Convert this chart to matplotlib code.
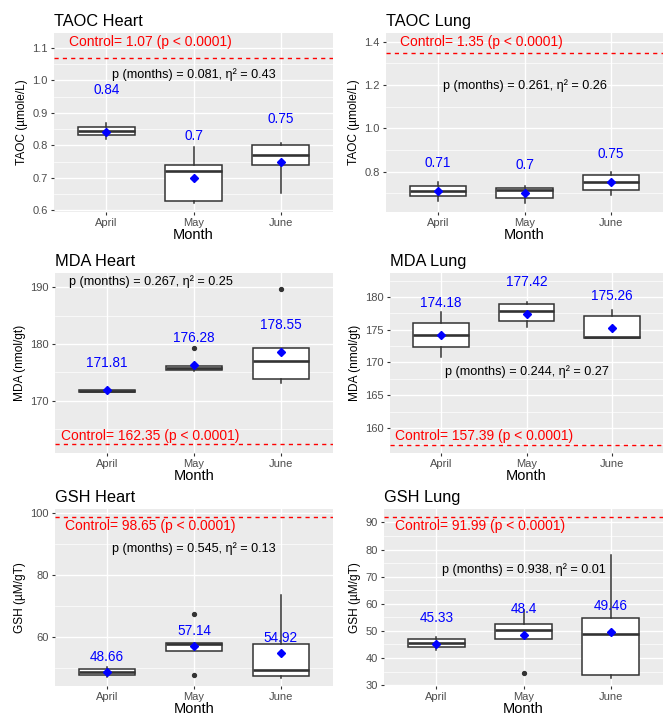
import matplotlib
matplotlib.use('Agg')
from matplotlib import pyplot as plt
from matplotlib.ticker import MultipleLocator

plt.rcParams['font.family'] = ['Liberation Sans', 'DejaVu Sans']

months = ['April', 'May', 'June']

# box stats per panel: whisker low, q1, median, q3, whisker high, mean, outliers
taoc_heart_whislo = [0.821, 0.622, 0.652]
taoc_heart_q1 = [0.833, 0.630, 0.741]
taoc_heart_med = [0.845, 0.721, 0.770]
taoc_heart_q3 = [0.858, 0.741, 0.801]
taoc_heart_whishi = [0.870, 0.796, 0.807]
taoc_heart_mean = [0.84, 0.70, 0.75]
taoc_heart_fliers = [[], [], []]

taoc_lung_whislo = [0.662, 0.654, 0.693]
taoc_lung_q1 = [0.685, 0.679, 0.713]
taoc_lung_med = [0.708, 0.713, 0.752]
taoc_lung_q3 = [0.731, 0.722, 0.782]
taoc_lung_whishi = [0.754, 0.732, 0.800]
taoc_lung_mean = [0.71, 0.70, 0.75]
taoc_lung_fliers = [[], [], []]

mda_heart_whislo = [171.55, 175.3, 173.1]
mda_heart_q1 = [171.6, 175.35, 173.8]
mda_heart_med = [171.76, 175.7, 177.0]
mda_heart_q3 = [171.95, 176.1, 179.3]
mda_heart_whishi = [172.0, 176.15, 179.3]
mda_heart_mean = [171.81, 176.28, 178.55]
mda_heart_fliers = [[], [179.3], [189.6]]

mda_lung_whislo = [170.8, 175.4, 173.76]
mda_lung_q1 = [172.43, 176.3, 173.76]
mda_lung_med = [174.22, 177.85, 173.86]
mda_lung_q3 = [176.0, 178.93, 177.03]
mda_lung_whishi = [177.65, 179.18, 177.95]
mda_lung_mean = [174.18, 177.42, 175.26]
mda_lung_fliers = [[], [], []]

gsh_heart_whislo = [47.1, 55.3, 46.8]
gsh_heart_q1 = [47.77, 55.3, 47.23]
gsh_heart_med = [48.6, 57.66, 49.26]
gsh_heart_q3 = [49.68, 58.1, 57.87]
gsh_heart_whishi = [50.3, 58.1, 73.4]
gsh_heart_mean = [48.66, 57.14, 54.92]
gsh_heart_fliers = [[], [67.3, 47.66], []]

gsh_lung_whislo = [42.9, 46.9, 32.8]
gsh_lung_q1 = [44.25, 46.9, 33.6]
gsh_lung_med = [45.45, 50.16, 48.83]
gsh_lung_q3 = [46.9, 52.58, 54.63]
gsh_lung_whishi = [47.75, 57.77, 77.93]
gsh_lung_mean = [45.33, 48.4, 49.46]
gsh_lung_fliers = [[], [34.47], []]

titles = ['TAOC Heart', 'TAOC Lung', 'MDA Heart', 'MDA Lung', 'GSH Heart', 'GSH Lung']
ylabels = ['TAOC (µmole/L)', 'TAOC (µmole/L)', 'MDA (nmol/gt)', 'MDA (nmol/gt)',
           'GSH (µM/gT)', 'GSH (µM/gT)']
controls = [1.07, 1.35, 162.35, 157.39, 98.65, 91.99]
p_months = ['0.081', '0.261', '0.267', '0.244', '0.545', '0.938']
eta_sq = ['0.43', '0.26', '0.25', '0.27', '0.13', '0.01']

panels = [
    (taoc_heart_whislo, taoc_heart_q1, taoc_heart_med, taoc_heart_q3, taoc_heart_whishi, taoc_heart_mean, taoc_heart_fliers),
    (taoc_lung_whislo, taoc_lung_q1, taoc_lung_med, taoc_lung_q3, taoc_lung_whishi, taoc_lung_mean, taoc_lung_fliers),
    (mda_heart_whislo, mda_heart_q1, mda_heart_med, mda_heart_q3, mda_heart_whishi, mda_heart_mean, mda_heart_fliers),
    (mda_lung_whislo, mda_lung_q1, mda_lung_med, mda_lung_q3, mda_lung_whishi, mda_lung_mean, mda_lung_fliers),
    (gsh_heart_whislo, gsh_heart_q1, gsh_heart_med, gsh_heart_q3, gsh_heart_whishi, gsh_heart_mean, gsh_heart_fliers),
    (gsh_lung_whislo, gsh_lung_q1, gsh_lung_med, gsh_lung_q3, gsh_lung_whishi, gsh_lung_mean, gsh_lung_fliers),
]

# layout: axes boxes in pixels (left, top, right, bottom), y limits, ticks, text placement
W, H = 664, 718
_boxes = [(54, 33, 333, 212), (386, 33, 663, 212),
          (55, 273, 333, 453), (390, 273, 663, 453),
          (55, 509, 333, 686), (384, 509, 663, 686)]
_ylims = [(0.595, 1.146), (0.613, 1.441), (160.76, 192.5), (156.16, 183.68), (44.15, 101.3), (29.7, 94.95)]
_major = [0.1, 0.2, 10, 5, 20, 10]
_label_off = [0.13, 0.13, 4.8, 4.9, 4.7, 9.6]
_p_pos = [(2, 1.017), (2, 1.196), (1.5, 190.94), (2, 168.6), (2, 88.4), (2, 72.5)]
_ctrl_y = [1.117, 1.398, 163.7, 158.8, 95.7, 88.8]

fig = plt.figure(figsize=(W/100, H/100), dpi=100)
fig.patch.set_facecolor('white')

for i, (wlo, q1, med, q3, whi, mean, fliers) in enumerate(panels):
    l, t, r, b = _boxes[i]
    ax = fig.add_axes([l/W, 1 - b/H, (r-l)/W, (b-t)/H])
    ax.set_facecolor('#EBEBEB')
    for s in ax.spines.values():
        s.set_visible(False)

    stats = [{'whislo': wlo[k], 'q1': q1[k], 'med': med[k], 'q3': q3[k], 'whishi': whi[k],
              'fliers': fliers[k], 'label': months[k]} for k in range(3)]
    ax.bxp(stats, positions=[1, 2, 3], widths=0.65, showcaps=False, patch_artist=True,
           boxprops=dict(facecolor='white', edgecolor='#333333', linewidth=1.1),
           medianprops=dict(color='#333333', linewidth=1.9),
           whiskerprops=dict(color='#333333', linewidth=1.1),
           flierprops=dict(marker='o', markersize=2.8, markerfacecolor='#333333',
                           markeredgecolor='#333333'), zorder=3)
    ax.plot([1, 2, 3], mean, linestyle='none', marker='D', markersize=4.5,
            color='#0000FF', zorder=4)
    for k in range(3):
        ax.text(k + 1, mean[k] + _label_off[i], f'{mean[k]:g}', color='#0000FF',
                fontsize=9.8, ha='center', va='center', zorder=5)

    ax.axhline(controls[i], color='#FF0000', linestyle=(0, (3, 3)), linewidth=1.0, zorder=2)
    ax.text(1.5, _ctrl_y[i], f'Control= {controls[i]:g} (p < 0.0001)', color='#FF0000',
            fontsize=10, ha='center', va='center', zorder=5)
    px, py = _p_pos[i]
    ax.text(px, py, f'p (months) = {p_months[i]}, η² = {eta_sq[i]}', color='black',
            fontsize=9.1, ha='center', va='center', zorder=5)

    ax.set_xlim(0.4, 3.6)
    ax.set_ylim(*_ylims[i])
    ax.yaxis.set_major_locator(MultipleLocator(_major[i]))
    ax.yaxis.set_minor_locator(MultipleLocator(_major[i] / 2))
    ax.grid(which='major', color='white', linewidth=1.0, zorder=0)
    ax.grid(which='minor', axis='y', color='white', linewidth=0.5, zorder=0)
    ax.set_axisbelow(True)
    ax.set_xticks([1, 2, 3])
    ax.set_xticklabels(months)
    ax.tick_params(which='major', length=2.5, width=0.8, color='#333333',
                   labelcolor='#4D4D4D', labelsize=8, pad=2)
    ax.tick_params(which='minor', length=0)
    ax.set_xlabel('Month', fontsize=10.5, labelpad=0)
    ax.set_ylabel(ylabels[i], fontsize=8.6, labelpad=3)
    ax.set_title(titles[i], loc='left', fontsize=11.8, pad=5)

fig.savefig('out.png', dpi=100)
